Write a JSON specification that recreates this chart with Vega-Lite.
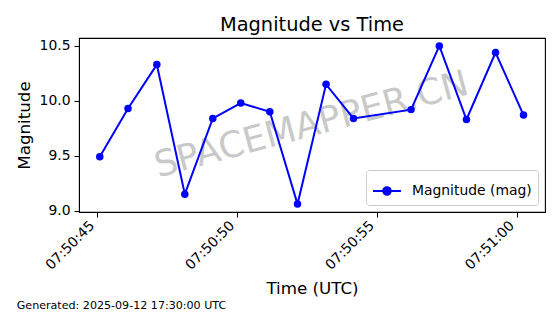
{
  "$schema": "https://vega.github.io/schema/vega-lite/v6.json",
  "width": 466,
  "height": 174,
  "autosize": {"type": "none"},
  "padding": {"left": 79, "top": 38, "right": 15, "bottom": 102},
  "background": "white",
  "title": {
    "text": "Magnitude vs Time",
    "font": "DejaVu Sans",
    "fontSize": 19.4,
    "fontWeight": "normal",
    "color": "black",
    "anchor": "middle",
    "offset": 3
  },
  "config": {
    "font": "DejaVu Sans",
    "view": {"stroke": "black", "strokeWidth": 1.1},
    "axis": {
      "labelFont": "DejaVu Sans",
      "labelFontSize": 13.9,
      "labelColor": "black",
      "titleFont": "DejaVu Sans",
      "titleFontSize": 16.7,
      "titleFontWeight": "normal",
      "titleColor": "black",
      "domainColor": "black",
      "tickColor": "black",
      "tickSize": 5,
      "tickWidth": 1,
      "gridColor": "#b0b0b0",
      "gridOpacity": 0.6,
      "gridDash": [4, 3],
      "gridWidth": 0.9
    }
  },
  "datasets": {
    "series": [
      {"time": "2025-09-12T07:50:45.100Z", "mag": 9.49},
      {"time": "2025-09-12T07:50:46.110Z", "mag": 9.93},
      {"time": "2025-09-12T07:50:47.140Z", "mag": 10.33},
      {"time": "2025-09-12T07:50:48.140Z", "mag": 9.15},
      {"time": "2025-09-12T07:50:49.140Z", "mag": 9.84},
      {"time": "2025-09-12T07:50:50.140Z", "mag": 9.98},
      {"time": "2025-09-12T07:50:51.180Z", "mag": 9.9},
      {"time": "2025-09-12T07:50:52.170Z", "mag": 9.06},
      {"time": "2025-09-12T07:50:53.190Z", "mag": 10.15},
      {"time": "2025-09-12T07:50:54.170Z", "mag": 9.84},
      {"time": "2025-09-12T07:50:56.230Z", "mag": 9.92},
      {"time": "2025-09-12T07:50:57.240Z", "mag": 10.5},
      {"time": "2025-09-12T07:50:58.210Z", "mag": 9.83},
      {"time": "2025-09-12T07:50:59.250Z", "mag": 10.44},
      {"time": "2025-09-12T07:51:00.250Z", "mag": 9.87}
    ],
    "watermark": [{"label": "SPACEMAPPER.CN"}],
    "footer": [{"label": "Generated: 2025-09-12 17:30:00 UTC"}]
  },
  "layer": [
    {
      "data": {"name": "watermark"},
      "mark": {"type": "text", "font": "DejaVu Sans", "fontSize": 36, "angle": -15, "color": "#808080", "opacity": 0.42, "align": "center", "baseline": "middle"},
      "encoding": {
        "text": {"field": "label"},
        "x": {
          "datum": {"year": 2025, "month": 9, "date": 12, "hours": 7, "minutes": 50, "seconds": 52, "milliseconds": 670, "utc": true},
          "type": "temporal",
          "scale": {
            "type": "utc",
            "domain": [
              {"year": 2025, "month": 9, "date": 12, "hours": 7, "minutes": 50, "seconds": 44, "milliseconds": 357, "utc": true},
              {"year": 2025, "month": 9, "date": 12, "hours": 7, "minutes": 51, "seconds": 1, "milliseconds": 18, "utc": true}
            ]
          },
          "axis": {
            "title": "Time (UTC)",
            "format": "%H:%M:%S",
            "values": [
              {"year": 2025, "month": 9, "date": 12, "hours": 7, "minutes": 50, "seconds": 45, "utc": true},
              {"year": 2025, "month": 9, "date": 12, "hours": 7, "minutes": 50, "seconds": 50, "utc": true},
              {"year": 2025, "month": 9, "date": 12, "hours": 7, "minutes": 50, "seconds": 55, "utc": true},
              {"year": 2025, "month": 9, "date": 12, "hours": 7, "minutes": 51, "seconds": 0, "utc": true}
            ],
            "labelAngle": -45,
            "labelAlign": "right",
            "labelBaseline": "bottom",
            "labelPadding": 11,
            "titlePadding": 8
          }
        },
        "y": {
          "datum": 9.78,
          "type": "quantitative",
          "scale": {"domain": [8.988, 10.572], "nice": false, "zero": false},
          "axis": {
            "title": "Magnitude",
            "values": [9.0, 9.5, 10.0, 10.5],
            "format": ".1f",
            "labelPadding": 4,
            "titlePadding": 6
          }
        }
      }
    },
    {
      "data": {"name": "series"},
      "mark": {"type": "line", "strokeWidth": 2, "color": "#0000ff"},
      "encoding": {
        "x": {"field": "time", "type": "temporal"},
        "y": {"field": "mag", "type": "quantitative"},
        "color": {
          "datum": "Magnitude (mag)",
          "type": "nominal",
          "scale": {"range": ["#0000ff"]},
          "legend": {
            "title": null,
            "orient": "bottom-right",
            "offset": 7,
            "padding": 6,
            "fillColor": "white",
            "strokeColor": "#cccccc",
            "cornerRadius": 3,
            "labelFont": "DejaVu Sans",
            "labelFontSize": 13.9,
            "labelColor": "black",
            "labelOffset": 10,
            "symbolSize": 784,
            "symbolType": "M-1,0L1,0M0.27,0A0.27,0.27,0,1,1,-0.27,0A0.27,0.27,0,1,1,0.27,0Z",
            "symbolStrokeWidth": 2,
            "encode": {
              "symbols": {
                "update": {
                  "fill": {"value": "#0000ff"},
                  "stroke": {"value": "#0000ff"},
                  "strokeWidth": {"value": 2},
                  "opacity": {"value": 1}
                }
              }
            }
          }
        }
      }
    },
    {
      "data": {"name": "series"},
      "mark": {"type": "point", "filled": true, "size": 56, "opacity": 1, "color": "#0000ff"},
      "encoding": {
        "x": {"field": "time", "type": "temporal"},
        "y": {"field": "mag", "type": "quantitative"}
      }
    },
    {
      "data": {"name": "footer"},
      "mark": {"type": "text", "font": "DejaVu Sans", "fontSize": 11.1, "color": "black", "align": "left", "baseline": "middle"},
      "encoding": {
        "text": {"field": "label"},
        "x": {"datum": {"year": 2025, "month": 9, "date": 12, "hours": 7, "minutes": 50, "seconds": 42, "milliseconds": 130, "utc": true}, "type": "temporal"},
        "y": {"datum": 8.135, "type": "quantitative"}
      }
    }
  ]
}
